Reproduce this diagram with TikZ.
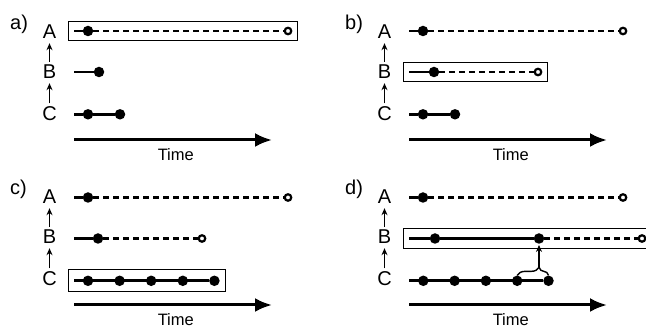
\documentclass[tikz,border=0pt]{standalone}
\usepackage{fontspec}
\setmainfont{Liberation Sans}
\usetikzlibrary{arrows.meta,decorations.pathreplacing,fit}

\begin{document}
\begin{tikzpicture}[x=1pt, y=-1pt,
  dot/.style={circle, fill, inner sep=0pt, minimum size=10.5pt},
  open dot/.style={circle, draw, line width=2.2pt, fill=white, inner sep=0pt, minimum size=6.5pt},
  process/.style={font=\fontsize{20}{22}\selectfont, inner sep=0pt, anchor=base},
  running/.style={line width=2.6pt},
  waiting/.style={line width=2.6pt, dash pattern=on 6pt off 4pt},
  active/.style={draw, line width=1.1pt, inner xsep=5.5pt, inner ysep=5.5pt},
  call/.style={-{Stealth[length=7pt,width=6pt]}, line width=1.5pt, shorten <=3pt, shorten >=4.5pt},
  time/.style={-{Latex[length=17pt,width=14pt]}, line width=3pt}]

\useasboundingbox (0,0) rectangle (646,328);

% common parts of the four panels
\foreach \p/\sx/\sy/\dy in {a/0/0/0, b/335/0/0, c/0/165/1.5, d/335/165/1.5} {
  \begin{scope}[shift={(\sx,\sy)}]
    \node [process, anchor=base west] (\p-label) at (10,30) {\p)};
    \node [process] (\p-A) at (49.5,38.5) {A};
    \node [process] (\p-B) at (49.5,78.5) {B};
    \node [process] (\p-C) at (49.5,120.5) {C};
    \draw [call] (\p-B) -- (\p-A);
    \draw [call] (\p-C) -- (\p-B);

    \coordinate (\p-A0) at (74,{31+\dy});
    \coordinate (\p-B0) at (74,{72+\dy});
    \coordinate (\p-C0) at (74,{114.3+\dy});
    \node [dot] (\p-A1) at (88,{31+\dy}) {};
    \node [open dot] (\p-A2) at (288,{31+\dy}) {};
    \draw [running] (\p-A0) -- (\p-A1);
    \draw [waiting] (\p-A1) -- (\p-A2);

    \coordinate (\p-t0) at (74,140);
    \coordinate (\p-t1) at (272,140);
    \draw [time] (\p-t0) -- (\p-t1);
    \node [font=\fontsize{16.5}{18}\selectfont, anchor=base] (\p-time) at (175.8,160.5) {Time};
  \end{scope}
}

% a)
\node [dot] (a-B1) at (99,72) {};
\draw [running] (a-B0) -- (a-B1);
\node [dot] (a-C1) at (88,114.3) {};
\node [dot] (a-C2) at (120,114.3) {};
\draw [running] (a-C0) -- (a-C1) -- (a-C2);
\node [active, fit=(a-A0)(a-A2)] (a-box) {};

% b)
\begin{scope}[shift={(335,0)}]
  \node [dot] (b-B1) at (99,72) {};
  \node [open dot] (b-B2) at (203,72) {};
  \draw [running] (b-B0) -- (b-B1);
  \draw [waiting] (b-B1) -- (b-B2);
  \node [dot] (b-C1) at (88,114.3) {};
  \node [dot] (b-C2) at (120,114.3) {};
  \draw [running] (b-C0) -- (b-C1) -- (b-C2);
  \node [active, fit=(b-B0)(b-B2)] (b-box) {};
\end{scope}

% c)
\begin{scope}[shift={(0,166.5)}]
  \node [dot] (c-B1) at (98,72) {};
  \node [open dot] (c-B2) at (202,72) {};
  \draw [running] (c-B0) -- (c-B1);
  \draw [waiting] (c-B1) -- (c-B2);
  \foreach \i in {1,...,5}
    \node [dot] (c-C\i) at ({56.4+31.6*\i},114.3) {};
  \draw [running] (c-C0) -- (c-C5);
  \node [active, fit=(c-C0)(c-C5)] (c-box) {};
\end{scope}

% d)
\begin{scope}[shift={(335,166.5)}]
  \node [dot] (d-B1) at (100,72) {};
  \node [dot] (d-B2) at (204,72) {};
  \node [open dot] (d-B3) at (307,72) {};
  \draw [running] (d-B0) -- (d-B1) -- (d-B2);
  \draw [waiting] (d-B2) -- (d-B3);
  \foreach \i in {1,...,5}
    \node [dot] (d-C\i) at ({57+31.3*\i},114.3) {};
  \draw [running] (d-C0) -- (d-C5);
  \node [active, fit=(d-B0)(d-B3)] (d-box) {};
  \draw [line width=1.4pt, decorate, decoration={brace, amplitude=8pt, aspect=0.7}]
    (d-C4.north) -- (d-C5.north);
  \coordinate (d-tip) at (204,101);
  \draw [call, shorten <=0pt, shorten >=1pt] (d-tip) -- (d-B2);
\end{scope}

\end{tikzpicture}
\end{document}
